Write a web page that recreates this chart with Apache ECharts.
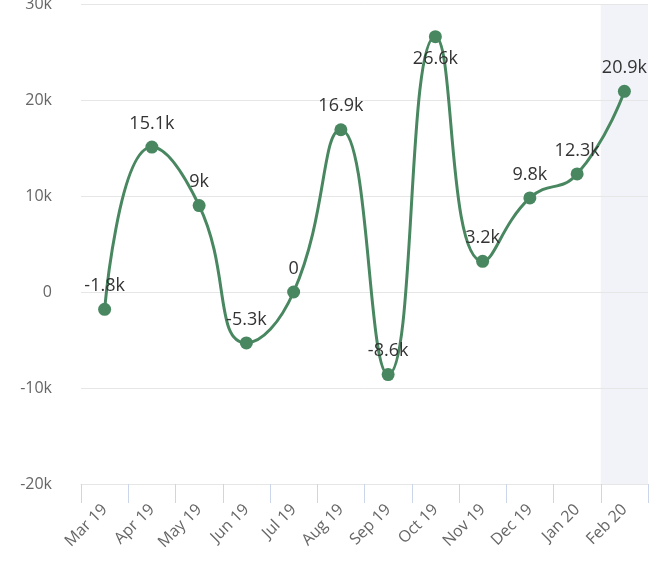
<!DOCTYPE html>
<html>
<head>
<meta charset="utf-8">
<script src="https://cdn.jsdelivr.net/npm/echarts@6/dist/echarts.min.js"></script>
<style>html,body{margin:0;padding:0;background:#fff;}#c{width:663px;height:568px;}</style>
</head>
<body>
<div id="c"></div>
<script>
const categories = ['Mar 19','Apr 19','May 19','Jun 19','Jul 19','Aug 19','Sep 19','Oct 19','Nov 19','Dec 19','Jan 20','Feb 20'];
const values = [-1800, 15100, 9000, -5300, 0, 16900, -8600, 26600, 3200, 9800, 12300, 20900];
const yMin = -20000, yMax = 30000, yInterval = 10000;
const shadedCategory = 'Feb 20';
const labelBelow = ['Oct 19'];

function fmtK(v){
  if (v === 0) return '0';
  const r = Math.round(v/100)/10;
  return r + 'k';
}

const lineData = values.map((v,i)=>{
  const o = {value: v};
  if (labelBelow.indexOf(categories[i]) >= 0) o.label = {position:'bottom', distance: 7};
  return o;
});
const shadeUp = categories.map(c => c === shadedCategory ? yMax : null);
const shadeDown = categories.map(c => c === shadedCategory ? yMin : null);

const chart = echarts.init(document.getElementById('c'), null, {renderer:'canvas'});
chart.setOption({
  animation: false,
  grid: {left: 81, right: 15, top: 4, bottom: 84, containLabel: false, outerBoundsMode: 'none'},
  xAxis: {
    type: 'category',
    data: categories,
    boundaryGap: true,
    axisLine: {show: true, onZero: false, lineStyle: {color: '#e6e6e6', width: 1}},
    axisTick: {show: true, length: 19, lineStyle: {color: '#ccd6eb', width: 1}},
    axisLabel: {rotate: 45, margin: 23, color: '#666', fontSize: 16, fontFamily: 'Open Sans', interval: 0},
    splitLine: {show: false}
  },
  yAxis: {
    type: 'value',
    min: yMin, max: yMax, interval: yInterval,
    axisLine: {show: false},
    axisTick: {show: false},
    axisLabel: {margin: 29, color: '#666', fontSize: 16, fontFamily: 'Open Sans',
      formatter: v => v === 0 ? '0' : (v/1000) + 'k'},
    splitLine: {show: true, lineStyle: {color: '#e6e6e6', width: 1}}
  },
  series: [
    {type: 'bar', data: shadeUp, barWidth: '100%', barGap: '-100%', stack: 'shade', silent: true, z: -1,
      itemStyle: {color: '#f2f3f8'}, emphasis: {disabled: true}},
    {type: 'bar', data: shadeDown, barWidth: '100%', barGap: '-100%', stack: 'shade', silent: true, z: -1,
      itemStyle: {color: '#f2f3f8'}, emphasis: {disabled: true}},
    {
      type: 'line',
      data: lineData,
      smooth: 0.5,
      symbol: 'circle',
      symbolSize: 13,
      lineStyle: {color: '#488760', width: 3},
      itemStyle: {color: '#488760'},
      label: {show: true, position: 'top', distance: 8, color: '#333', fontSize: 18, fontFamily: 'Open Sans',
        formatter: p => fmtK(p.value)},
      z: 3
    }
  ]
});
</script>
</body>
</html>
